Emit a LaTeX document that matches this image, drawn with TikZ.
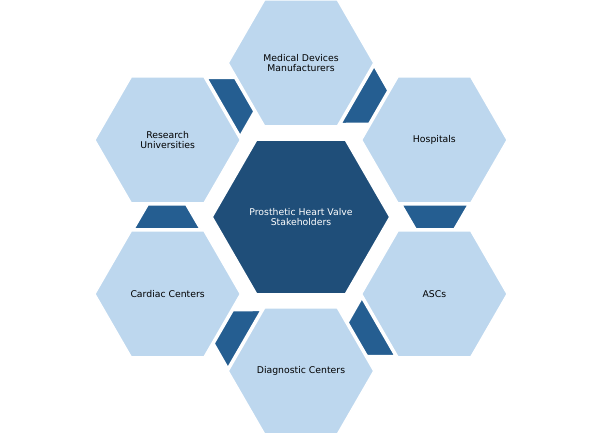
\documentclass[tikz,border=0pt]{standalone}
\usepackage{fontspec}
\setmainfont{DejaVu Sans}
\usetikzlibrary{shapes.geometric}
\definecolor{celllight}{RGB}{189,215,238}
\definecolor{hubdark}{RGB}{31,78,121}
\definecolor{linkblue}{RGB}{37,94,145}

\begin{document}
\begin{tikzpicture}[x=1pt, y=1pt,
        cell/.style={regular polygon, regular polygon sides=6, minimum size=145.5pt,
            inner sep=0pt, fill=celllight, draw=white, line width=1.5pt,
            align=center, font=\fontsize{9.3}{10.8}\selectfont},
        hub/.style={cell, minimum size=177.5pt, fill=hubdark, text=white},
        link/.style={fill=linkblue, draw=white, line width=1.5pt}]
        \useasboundingbox (0,0) rectangle (602,435);
        \coordinate (mid) at (301,218);
        % links between neighbouring cells, one per gap
        \foreach \a in {0,60,...,300}
            \path[link, shift={(mid)}, rotate=\a] (101,12) -- (167,12) -- (153,-12) -- (115,-12) -- cycle;
        \node[hub] (stake) at (mid) {Prosthetic Heart Valve\\Stakeholders};
        \node[cell] (makers) at ([shift={(90:154)}]mid) {Medical Devices\\Manufacturers};
        \node[cell] (hosp) at ([shift={(30:154)}]mid) {Hospitals};
        \node[cell] (ascs) at ([shift={(-30:154)}]mid) {ASCs};
        \node[cell] (diag) at ([shift={(-90:154)}]mid) {Diagnostic Centers};
        \node[cell] (cardiac) at ([shift={(-150:154)}]mid) {Cardiac Centers};
        \node[cell] (research) at ([shift={(150:154)}]mid) {Research\\Universities};
    \end{tikzpicture}
\end{document}
